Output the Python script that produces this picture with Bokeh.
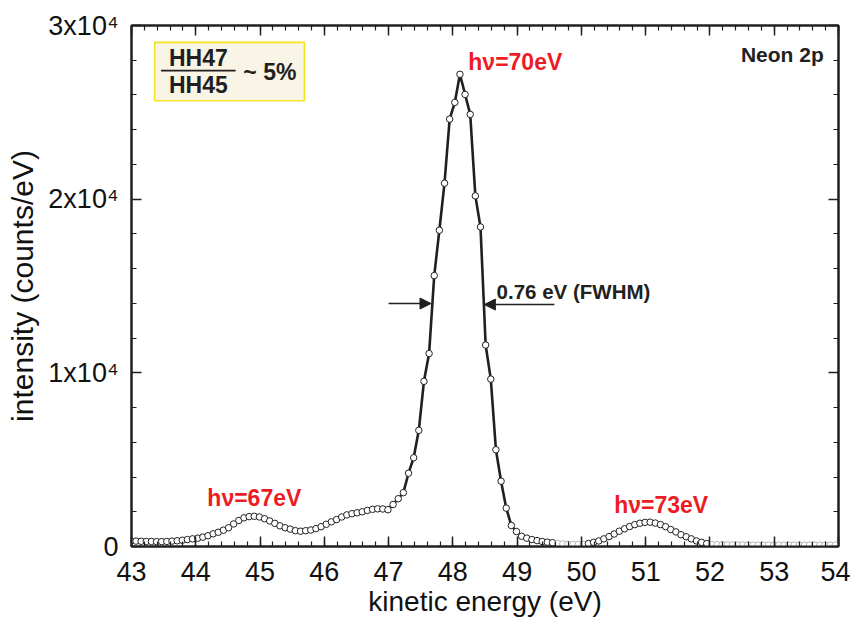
from bokeh.plotting import figure
from bokeh.models import (Range1d, SingleIntervalTicker, LinearAxis, Label, Arrow,
                          NormalHead, ColumnDataSource)
from bokeh.embed import file_html
from bokeh.resources import INLINE

# ---- data ----
energy = [42.99, 43.07, 43.15, 43.23, 43.31, 43.39, 43.47, 43.55, 43.63, 43.71,
          43.79, 43.87, 43.95, 44.03, 44.11, 44.19, 44.27, 44.35, 44.43, 44.51,
          44.59, 44.67, 44.75, 44.83, 44.91, 44.99, 45.07, 45.15, 45.23, 45.31,
          45.39, 45.47, 45.55, 45.63, 45.71, 45.79, 45.87, 45.95, 46.03, 46.11,
          46.19, 46.27, 46.35, 46.43, 46.51, 46.59, 46.67, 46.75, 46.83, 46.91,
          46.99, 47.07, 47.15, 47.23, 47.31, 47.39, 47.47, 47.55, 47.63, 47.71,
          47.79, 47.87, 47.95, 48.03, 48.11, 48.19, 48.27, 48.35, 48.43, 48.51,
          48.59, 48.67, 48.75, 48.83, 48.91, 48.99, 49.07, 49.15, 49.23, 49.31,
          49.39, 49.47, 49.55, 49.63, 49.71, 49.79, 49.87, 49.95, 50.03, 50.11,
          50.19, 50.27, 50.35, 50.43, 50.51, 50.59, 50.67, 50.75, 50.83, 50.91,
          50.99, 51.07, 51.15, 51.23, 51.31, 51.39, 51.47, 51.55, 51.63, 51.71,
          51.79, 51.87, 51.95, 52.03, 52.11, 52.19, 52.27, 52.35, 52.43, 52.51,
          52.59, 52.67, 52.75, 52.83, 52.91, 52.99, 53.07, 53.15, 53.23, 53.31,
          53.39, 53.47, 53.55, 53.63, 53.71, 53.79, 53.87, 53.95]

counts = [310, 310, 300, 290, 290, 280, 280, 290, 310, 330,
          360, 400, 440, 480, 540, 620, 730, 820, 940, 1080,
          1300, 1500, 1650, 1720, 1740, 1700, 1600, 1470, 1330, 1190,
          1080, 1000, 910, 880, 910, 950, 1030, 1140, 1280, 1420,
          1550, 1700, 1820, 1890, 1940, 2000, 2080, 2140, 2170, 2160,
          2120, 2420, 2750, 3100, 4220, 5110, 6690, 9510, 11110, 15600,
          18210, 20920, 24610, 25570, 27190, 26030, 24880, 20190, 18400, 11600,
          9640, 5570, 3760, 2210, 1210, 860, 590, 480, 400, 340,
          290, 250, 220, 180, 150, 130, 120, 120, 130, 170,
          240, 320, 440, 570, 720, 880, 1020, 1150, 1260, 1340,
          1390, 1400, 1350, 1260, 1140, 980, 840, 680, 560, 440,
          320, 240, 170, 120, 100, 100, 90, 90, 90, 90,
          90, 80, 80, 80, 80, 80, 80, 80, 80, 80,
          80, 80, 80, 80, 80, 80, 80, 80]

x_ticks = [43, 44, 45, 46, 47, 48, 49, 50, 51, 52, 53, 54]
y_ticks = [0, 10000, 20000, 30000]
y_tick_labels = ["0", "1x10\u2074", "2x10\u2074", "3x10\u2074"]

INK = "#231f20"
RED = "#ed1c24"
FONT = "Liberation Sans"

colors = ["#b4b4b4" if (49.6 < e < 50.08 or e > 51.99) else INK for e in energy]
src = ColumnDataSource(dict(x=energy, y=counts, c=colors))

p = figure(width=850, height=622, output_backend="svg", toolbar_location=None,
           x_range=Range1d(43, 54), y_range=Range1d(0, 30000),
           min_border_left=131, min_border_right=12, min_border_top=25,
           min_border_bottom=76, background_fill_color="white",
           border_fill_color="white")
p.grid.visible = False
p.outline_line_color = INK
p.outline_line_width = 2

def style_axis(ax, labels=True):
    ax.axis_line_color = INK
    ax.axis_line_width = 2
    ax.major_tick_line_color = INK
    ax.minor_tick_line_color = INK
    ax.major_tick_line_width = 1.5
    ax.minor_tick_line_width = 1.2
    ax.major_tick_in = 10
    ax.major_tick_out = 0
    ax.minor_tick_in = 5
    ax.minor_tick_out = 0
    ax.major_label_text_font = FONT
    if labels:
        ax.major_label_text_font_size = "27px"
        ax.major_label_text_color = "#111111"
    else:
        ax.major_label_text_font_size = "1px"
        ax.major_label_text_color = None
        ax.major_label_standoff = 0
    ax.axis_label_text_font = FONT
    ax.axis_label_text_font_style = "normal"
    ax.axis_label_text_font_size = "28px"
    ax.axis_label_text_color = "#111111"

p.xaxis.ticker = SingleIntervalTicker(interval=1, num_minor_ticks=5)
p.yaxis.ticker = SingleIntervalTicker(interval=10000, num_minor_ticks=5)
p.xaxis.axis_label = "kinetic energy (eV)"
p.yaxis.axis_label = "intensity (counts/eV)"
p.yaxis.major_label_overrides = {v: s for v, s in zip(y_ticks, y_tick_labels)}
p.xaxis.major_label_overrides = {v: str(v) for v in x_ticks}
style_axis(p.xaxis[0])
style_axis(p.yaxis[0])
p.yaxis.axis_label_text_font_size = "30px"
p.xaxis.major_label_standoff = 15
p.yaxis.major_label_standoff = 13
p.xaxis.axis_label_standoff = 2
p.yaxis.axis_label_standoff = 6

top = LinearAxis(ticker=SingleIntervalTicker(interval=1, num_minor_ticks=5))
right = LinearAxis(ticker=SingleIntervalTicker(interval=10000, num_minor_ticks=5))
style_axis(top, labels=False)
style_axis(right, labels=False)
p.add_layout(top, "above")
p.add_layout(right, "right")

# ---- data marks ----
p.line("x", "y", source=src, line_width=2.6, line_color=INK)
p.scatter("x", "y", source=src, size=6.5, fill_color="white", line_color="c",
          line_width=1)

# ---- ratio box ----
p.quad(left=43.36, right=45.69, top=29030, bottom=25670, fill_color="#f8f5e6",
       line_color="#f3e41c", line_width=1.6)
p.segment(x0=43.46, x1=44.62, y0=27400, y1=27400, line_color=INK, line_width=1.8)

def lab(x, y, text, size, color=INK, align="left", bold=True):
    p.add_layout(Label(x=x, y=y, text=text, text_font=FONT,
                       text_font_size=size, text_color=color,
                       text_font_style="bold" if bold else "normal",
                       text_align=align, text_baseline="middle"))

lab(44.04, 28130, "HH47", "23px", align="center")
lab(44.04, 26570, "HH45", "23px", align="center")
lab(44.74, 27300, "~ 5%", "23px")

lab(44.18, 2800, "h\u03bd=67eV", "23px", color=RED)
lab(48.24, 27900, "h\u03bd=70eV", "23px", color=RED)
lab(50.51, 2380, "h\u03bd=73eV", "23px", color=RED)
lab(53.77, 28350, "Neon 2p", "21px", align="right")
lab(48.68, 14700, "0.76 eV (FWHM)", "20.5px")

p.add_layout(Arrow(end=NormalHead(size=11, fill_color=INK, line_color=INK),
                   x_start=47.0, y_start=13990, x_end=47.66, y_end=13990,
                   line_width=1.5, line_color=INK))
p.add_layout(Arrow(end=NormalHead(size=11, fill_color=INK, line_color=INK),
                   x_start=49.58, y_start=13930, x_end=48.49, y_end=13930,
                   line_width=1.5, line_color=INK))

open("out.html", "w").write(file_html(p, INLINE))
